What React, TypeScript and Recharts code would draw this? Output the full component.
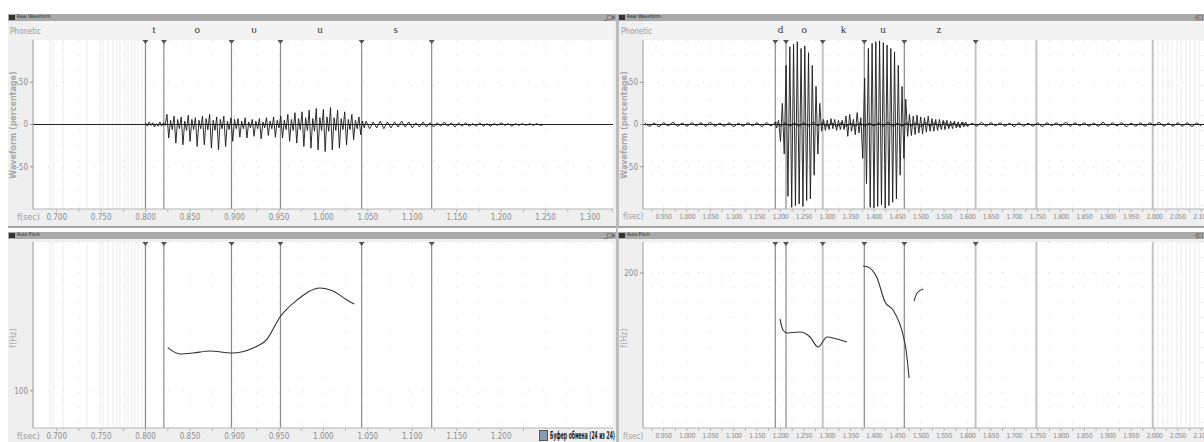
import React from "react";
import {
  ComposedChart,
  Line,
  XAxis,
  YAxis,
  ReferenceLine,
  CartesianGrid,
} from "recharts";

// ---- time axes (seconds) ----
const leftTicks = [
  0.7, 0.725, 0.75, 0.775, 0.8, 0.825, 0.85, 0.875, 0.9, 0.925, 0.95, 0.975, 1.0,
  1.025, 1.05, 1.075, 1.1, 1.125, 1.15, 1.175, 1.2, 1.225, 1.25, 1.275, 1.3, 1.325,
];
const rightTicks = [
  0.925, 0.95, 0.975, 1.0, 1.025, 1.05, 1.075, 1.1, 1.125, 1.15, 1.175, 1.2, 1.225,
  1.25, 1.275, 1.3, 1.325, 1.35, 1.375, 1.4, 1.425, 1.45, 1.475, 1.5, 1.525, 1.55,
  1.575, 1.6, 1.625, 1.65, 1.675, 1.7, 1.725, 1.75, 1.775, 1.8, 1.825, 1.85, 1.875,
  1.9, 1.925, 1.95, 1.975, 2.0, 2.025, 2.05, 2.075, 2.1,
];

// ---- segment boundaries & phonetic labels ----
const leftBounds = [0.7998, 0.8205, 0.8966, 0.9517, 1.043, 1.1218];
const leftFaint = [
  0.6925, 0.6958, 0.7071, 0.7341, 0.7487, 0.7521, 0.7577, 0.7633, 0.7678, 0.7712,
  0.7767, 0.7802, 0.7846, 0.788, 0.7914, 0.796,
];
const leftPhones = ["t", "o", "υ", "u", "s"];
const leftPhoneTimes = [0.8094, 0.8582, 0.9219, 0.9962, 1.0813];

const rightBounds = [1.1889, 1.2118, 1.3793, 1.4649];
const rightLightMarked = [1.2903, 1.6174];
const rightLight = [1.7474, 1.9964];
const rightFaint = [
  2.0075, 2.0182, 2.0289, 2.0375, 2.0481, 2.0567, 2.0674, 2.076, 2.0866, 2.0952,
];
const rightPhones = ["d", "o", "k", "u", "z"];
const rightPhoneTimes = [1.2, 1.2509, 1.3346, 1.4193, 1.5391];

// ---- waveform peaks (percentage) ----
// voiced part of "touus", every 2 ms
const leftVoicedStart = 0.8;
const leftVoicedStep = 0.002;
const leftVoiced = [
  2, -2, 3, -1, 2, -3, 1, -2, 3, -2, 2, -1,
  12, -16, 5, -6, 10, -22, 6, -5, 9, -24, 4, -7, 11, -20, 6, -6, 8, -26, 5, -5,
  10, -24, 7, -6, 12, -28, 5, -7, 9, -30, 6, -5, 10, -26, 4, -6, 8, -20,
  6, -5, 7, -15, 4, -5, 8, -16, 3, -4, 6, -14, 4, -5, 7, -17, 3, -4, 8, -13, 4, -5,
  9, -15, 5, -4,
  10, -16, 5, -6, 12, -20, 6, -7, 14, -22, 7, -6, 15, -26, 8, -7, 17, -28, 7, -8,
  19, -30, 8, -7, 18, -32, 9, -8, 20, -30, 8, -7, 17, -28, 7, -6, 15, -24, 6, -6,
  12, -18, 5, -5, 9, -12, 4, -4,
];
// fricative tail, every 4 ms
const leftTailStart = 1.048;
const leftTailStep = 0.004;
const leftTail = [
  4, -5, 3, -4, 4, -5, 3, -4, 3, -3, 4, -3, 3, -4, 2, -3, 3, -3, 2, -3, 2, -2, 3, -2,
  2, -3, 2, -2, 2, -2, 1, -2, 2, -2, 1, -2, 1, -1, 2, -1, 1, -2, 1, -1, 1, -1, 1, -1,
  1, -1, 0,
];

// "dokuz", every 4 ms
const rightWaveStart = 1.188;
const rightWaveStep = 0.004;
const rightWave = [
  3, -4, 5,
  -20, 25, -35,
  70, -85, 92, -98, 95, -96, 98, -94, 90, -97, 93, -90, 85, -88,
  70, -60, 45, -35, 25,
  -8, 6, -7, 5, -6, 7, -5, 6, -7, 5, -6, 5, -6,
  10, -14, 12, -8, 6, -12, 14, -10, 8,
  -40, 55, -70,
  90, -98, 96, -99, 98, -97, 99, -95, 97, -99, 94, -96, 90, -92, 86, -88,
  70, -60, 45, -40, 30,
  -14, 12, -13, 10, -12, 11, -10, 9, -11, 8, -9, 10, -8, 7, -8, 6, -7, 6, -6, 5, -6,
  5, -5, 4, -5, 4, -4, 3, -4, 3, -3, 3, -2,
];

// low background hum on the right recording, every 10 ms
const humStep = 0.01;
const rightHumStart = 0.91;
const rightHum = [
  2, -2, 1.5, -2.5, 2, -1.5, 2.5, -2, 1.5, -2,
  2, -1.5, 2, -2, 2.5, -2, 1.5, -2, 2, -2.5,
  1.5, -2, 2, -1.5, 2, -2.5, 2, -1.5, 2.5, -2,
  2, -2, 1.5, -2, 2, -2, 2.5, -1.5, 2, -2,
  1.5, -2.5, 2, -2, 1.5, -2, 2, -2, 1.5, -1.5,
  2, -2, 2.5, -2, 1.5, -2, 2, -1.5, 2, -2.5,
  2, -1.5, 2, -2, 2.5, -2, 1.5, -2, 2, -2,
  1.5, -2, 2.5, -2, 2, -1.5, 2, -2, 1.5, -2.5,
  2, -2, 1.5, -2, 2, -2.5, 2, -1.5, 2, -2,
  2.5, -2, 2, -1.5, 2, -2, 1.5, -2, 2.5, -2,
  2, -1.5, 2, -2.5, 1.5, -2, 2, -2, 2, -1.5,
  2.5, -2, 1.5, -2, 2, -2, 2, -2.5, 1.5, -2,
];

// ---- pitch contours (Hz) ----
const leftPitchT = [
  0.8249, 0.8387, 0.8533, 0.8724, 0.8972, 0.9208, 0.9366, 0.9512, 0.9703, 0.9962,
  1.0108, 1.0266, 1.0345,
];
const leftPitchHz = [
  123.2, 119.8, 120.3, 121.4, 120.3, 123.0, 127.8, 139.7, 148.8, 155.3, 153.7, 148.8,
  146.7,
];
const rightPitch1T = [1.199, 1.2054, 1.214, 1.2418, 1.2632, 1.2803, 1.2996, 1.321, 1.3424];
const rightPitch1Hz = [170.3, 163.2, 161.3, 161.9, 158.7, 152.3, 158.7, 157.4, 155.5];
const rightPitch2T = [1.3766, 1.3873, 1.4066, 1.4237, 1.4408, 1.4622, 1.4687, 1.4751];
const rightPitch2Hz = [204.5, 203.9, 196.8, 181.3, 176.1, 160.0, 150.3, 132.3];
const rightPitch3T = [1.4858, 1.4922, 1.5051];
const rightPitch3Hz = [181.9, 187.1, 189.7];

const leftDomain: [number, number] = [0.6733, 1.3258];
const rightDomain: [number, number] = [0.9059, 2.106];

const toSeries = (ts: number[], vs: number[]) => ts.map((t, i) => ({ t, v: vs[i] }));
const sampled = (start: number, step: number, vs: number[]) =>
  vs.map((v, i) => ({ t: start + i * step, v }));

const NARROW = "'Liberation Sans Narrow','DejaVu Sans Condensed',Arial,sans-serif";
const CHROME = "#efefef";
const TITLE = "#a9a9a9";

const fmtTick = (v: number) =>
  Math.round(v * 1000) % 50 === 0 ? v.toFixed(3) : "";
// the clipboard pop-up hides the last labels of the lower-left axis
const fmtTickCovered = (v: number) => (v > 1.21 ? "" : fmtTick(v));

const Marker = (props: any) => {
  const vb = props.viewBox || {};
  const x = vb.x;
  const y = vb.y;
  return <polygon points={`${x - 3},${y} ${x + 3},${y} ${x},${y + 4}`} fill="#555" />;
};

const phoneLabel = (ch: string) => (props: any) => {
  const vb = props.viewBox || {};
  return (
    <text
      x={vb.x}
      y={vb.y - 7}
      textAnchor="middle"
      fontSize={11}
      fontFamily="'Liberation Serif','DejaVu Serif',serif"
      fill="#333"
    >
      {ch}
    </text>
  );
};

const boundaryLines = (side: "left" | "right", withPhones: boolean) => {
  const out: React.ReactNode[] = [];
  const faint = side === "left" ? leftFaint : rightFaint;
  faint.forEach((t, i) =>
    out.push(<ReferenceLine key={`f${i}`} x={t} stroke="#ececec" strokeWidth={1} />)
  );
  if (side === "left") {
    leftBounds.forEach((t, i) =>
      out.push(
        <ReferenceLine key={`b${i}`} x={t} stroke="#8a8a8a" strokeWidth={1.2} label={Marker} />
      )
    );
  } else {
    rightLight.forEach((t, i) =>
      out.push(<ReferenceLine key={`l${i}`} x={t} stroke="#c4c4c4" strokeWidth={2} />)
    );
    rightLightMarked.forEach((t, i) =>
      out.push(
        <ReferenceLine key={`lm${i}`} x={t} stroke="#c4c4c4" strokeWidth={2} label={Marker} />
      )
    );
    rightBounds.forEach((t, i) =>
      out.push(
        <ReferenceLine key={`b${i}`} x={t} stroke="#8a8a8a" strokeWidth={1.2} label={Marker} />
      )
    );
  }
  if (withPhones) {
    const phones = side === "left" ? leftPhones : rightPhones;
    const times = side === "left" ? leftPhoneTimes : rightPhoneTimes;
    phones.forEach((ch, i) =>
      out.push(
        <ReferenceLine key={`p${i}`} x={times[i]} stroke="none" label={phoneLabel(ch)} />
      )
    );
  }
  return out;
};

const axisTick = { fontSize: 8, fill: "#8c8c8c", fontFamily: NARROW };
const axisTickTight = { fontSize: 7, fill: "#8c8c8c", fontFamily: NARROW, letterSpacing: -0.4 };

const WaveChart = ({ side }: { side: "left" | "right" }) => {
  const domain = side === "left" ? leftDomain : rightDomain;
  const ticks = side === "left" ? leftTicks : rightTicks;
  const width = side === "left" ? 605 : 586;
  const wave =
    side === "left"
      ? [
          ...sampled(leftVoicedStart, leftVoicedStep, leftVoiced),
          ...sampled(leftTailStart, leftTailStep, leftTail),
        ]
      : sampled(rightWaveStart, rightWaveStep, rightWave);
  return (
    <ComposedChart width={width} height={205} margin={{ top: 19, right: 0, left: 0, bottom: 0 }}>
      <CartesianGrid fill="#fff" stroke="#dcdcdc" strokeDasharray="1 14" horizontalPoints={[]} />
      <XAxis
        type="number"
        dataKey="t"
        domain={domain}
        ticks={ticks}
        tickFormatter={fmtTick}
        interval={0}
        allowDataOverflow
        height={17}
        tick={side === "left" ? axisTick : axisTickTight}
        tickSize={3}
        axisLine={{ stroke: "#b5b5b5" }}
        tickLine={{ stroke: "#b5b5b5" }}
      />
      <YAxis
        type="number"
        domain={[-100, 100]}
        ticks={[-50, 0, 50]}
        width={25}
        tick={axisTick}
        tickSize={3}
        axisLine={{ stroke: "#9a9a9a" }}
        tickLine={{ stroke: "#9a9a9a" }}
        allowDataOverflow
      />
      <ReferenceLine y={50} stroke="#e2e2e2" strokeDasharray="1 14" />
      <ReferenceLine y={-50} stroke="#e2e2e2" strokeDasharray="1 14" />
      {boundaryLines(side, true)}
      <ReferenceLine y={0} stroke="#222" strokeWidth={1} />
      {side === "right" && (
        <Line
          data={sampled(rightHumStart, humStep, rightHum)}
          dataKey="v"
          type="monotone"
          stroke="#222"
          strokeWidth={1}
          dot={false}
          isAnimationActive={false}
        />
      )}
      <Line
        data={wave}
        dataKey="v"
        type="linear"
        stroke="#1a1a1a"
        strokeWidth={0.9}
        dot={false}
        isAnimationActive={false}
      />
    </ComposedChart>
  );
};

const PitchChart = ({ side }: { side: "left" | "right" }) => {
  const domain = side === "left" ? leftDomain : rightDomain;
  const ticks = side === "left" ? leftTicks : rightTicks;
  const width = side === "left" ? 605 : 586;
  const segments =
    side === "left"
      ? [toSeries(leftPitchT, leftPitchHz)]
      : [
          toSeries(rightPitch1T, rightPitch1Hz),
          toSeries(rightPitch2T, rightPitch2Hz),
          toSeries(rightPitch3T, rightPitch3Hz),
        ];
  return (
    <ComposedChart width={width} height={202} margin={{ top: 2, right: 0, left: 0, bottom: 0 }}>
      <CartesianGrid fill="#fff" stroke="#dcdcdc" strokeDasharray="1 14" />
      <XAxis
        type="number"
        dataKey="t"
        domain={domain}
        ticks={ticks}
        tickFormatter={side === "left" ? fmtTickCovered : fmtTick}
        interval={0}
        allowDataOverflow
        height={14}
        tick={side === "left" ? axisTick : axisTickTight}
        tickSize={3}
        axisLine={{ stroke: "#b5b5b5" }}
        tickLine={{ stroke: "#b5b5b5" }}
      />
      <YAxis
        type="number"
        domain={side === "left" ? [80, 180] : [100, 220]}
        ticks={side === "left" ? [100] : [200]}
        width={25}
        tick={axisTick}
        tickSize={3}
        axisLine={{ stroke: "#9a9a9a" }}
        tickLine={{ stroke: "#9a9a9a" }}
        allowDataOverflow
      />
      {boundaryLines(side, false)}
      {segments.map((d, i) => (
        <Line
          key={i}
          data={d}
          dataKey="v"
          type="monotone"
          stroke="#333"
          strokeWidth={1.1}
          dot={false}
          isAnimationActive={false}
        />
      ))}
    </ComposedChart>
  );
};

const abs = (l: number, t: number, w: number, h: number, extra: React.CSSProperties = {}) =>
  ({ position: "absolute", left: l, top: t, width: w, height: h, ...extra }) as React.CSSProperties;

const small: React.CSSProperties = {
  fontFamily: NARROW,
  fontSize: 8,
  color: "#999",
  whiteSpace: "nowrap",
};

const TitleBar = ({ l, t, w, title, buttons }: { l: number; t: number; w: number; title: string; buttons: string }) => (
  <div style={abs(l, t, w, 7, { background: TITLE })}>
    <div style={abs(1, 1, 6, 5, { background: "#333" })} />
    <div style={{ ...abs(9, -1, 80, 8), fontFamily: NARROW, fontSize: 5, color: "#222" }}>{title}</div>
    {buttons && (
      <div style={{ ...abs(w - 14, -1, 13, 8), fontFamily: NARROW, fontSize: 6, color: "#111", textAlign: "right" }}>
        {buttons}
      </div>
    )}
  </div>
);

const VLabel = ({ x, y, text, bold }: { x: number; y: number; text: string; bold?: boolean }) => (
  <div
    style={{
      position: "absolute",
      left: x,
      top: y,
      transform: "translate(-50%, -50%) rotate(-90deg)",
      fontFamily: "'DejaVu Sans',sans-serif",
      fontSize: 8,
      fontWeight: bold ? 700 : 400,
      color: "#a8a8a8",
      whiteSpace: "nowrap",
    }}
  >
    {text}
  </div>
);

export default function App() {
  return (
    <div style={abs(0, 0, 1204, 442, { background: "#fff", overflow: "hidden" })}>
      {/* left window */}
      <div style={abs(8, 14, 608, 428, { background: CHROME, borderRight: "2px solid #bdbdbd" })} />
      <TitleBar l={8} t={14} w={608} title="Raw Waveform" buttons="_□x" />
      <div style={abs(33, 21, 580, 19, { background: "#f3f3f3", borderBottom: "1px solid #c8c8c8" })} />
      <div style={{ ...abs(10, 27, 24, 10), ...small }}>Phonetic</div>
      <div style={abs(8, 226, 608, 6, { background: "#fff", borderTop: "2px solid #a6a6a6" })} />
      <TitleBar l={8} t={232} w={608} title="Auto Pitch" buttons="_□x" />
      <div style={abs(8, 21, 605, 205)}>
        <WaveChart side="left" />
      </div>
      <div style={abs(8, 240, 605, 202)}>
        <PitchChart side="left" />
      </div>
      <VLabel x={13} y={125} text="Waveform (percentage)" bold />
      <VLabel x={13} y={338} text="f(Hz)" />
      <div style={{ ...abs(17, 212, 20, 10), ...small, fontSize: 9 }}>f(sec)</div>
      <div style={{ ...abs(17, 431, 20, 10), ...small, fontSize: 9 }}>f(sec)</div>

      {/* right window */}
      <div style={abs(618, 14, 586, 428, { background: CHROME, borderLeft: "1px solid #bdbdbd" })} />
      <TitleBar l={618} t={14} w={586} title="Raw Waveform" buttons="-|□" />
      <div style={abs(643, 21, 561, 19, { background: "#f3f3f3", borderBottom: "1px solid #c8c8c8" })} />
      <div style={{ ...abs(621, 27, 24, 10), ...small }}>Phonetic</div>
      <div style={abs(618, 226, 586, 6, { background: "#fff", borderTop: "2px solid #a6a6a6" })} />
      <TitleBar l={618} t={232} w={586} title="Auto Pitch" buttons="-|□" />
      <div style={abs(618, 21, 586, 205)}>
        <WaveChart side="right" />
      </div>
      <div style={abs(618, 240, 586, 202)}>
        <PitchChart side="right" />
      </div>
      <VLabel x={624} y={125} text="Waveform (percentage)" bold />
      <VLabel x={624} y={338} text="f(Hz)" />
      <div style={{ ...abs(623, 432, 20, 10), ...small, fontSize: 8 }}>f(sec)</div>
      <div style={{ ...abs(623, 212, 20, 10), ...small, fontSize: 8 }}>f(sec)</div>

      {/* clipboard notice */}
      <div
        style={{
          ...abs(539, 429, 77, 13),
          background: CHROME,
          display: "flex",
          alignItems: "center",
          gap: 2,
          overflow: "visible",
        }}
      >
        <span
          style={{
            display: "inline-block",
            flex: "0 0 auto",
            width: 7,
            height: 9,
            background: "#8a9ab0",
            border: "1px solid #555",
          }}
        />
        <span
          style={{
            display: "inline-block",
            fontFamily: NARROW,
            fontSize: 10,
            fontWeight: 700,
            color: "#222",
            whiteSpace: "nowrap",
            transform: "scaleX(0.5)",
            transformOrigin: "left center",
          }}
        >
          Буфер обмена (24 из 24)
        </span>
      </div>
    </div>
  );
}
